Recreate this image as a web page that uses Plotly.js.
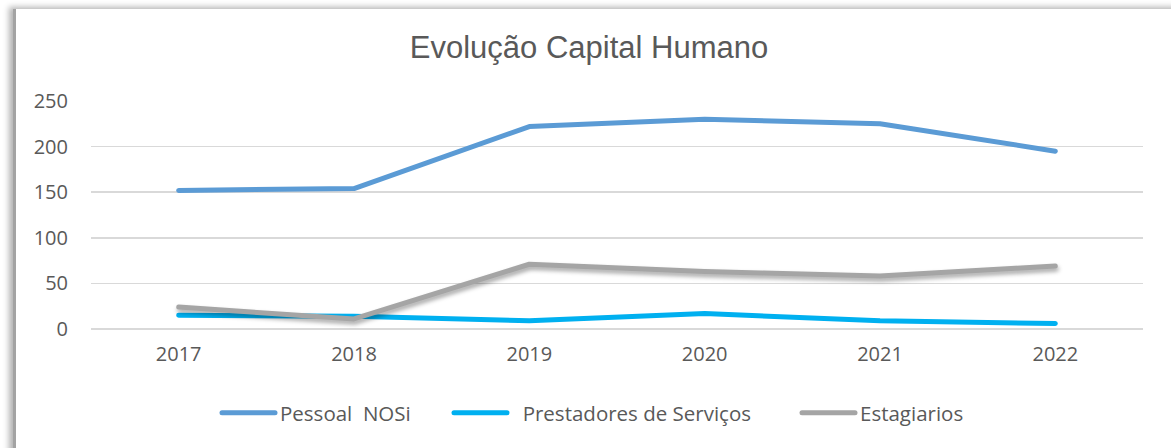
<!DOCTYPE html>
<html>
<head>
<meta charset="utf-8">
<script src="https://cdn.plot.ly/plotly-3.0.1.min.js"></script>
<style>
  html, body { margin: 0; padding: 0; background: #ffffff; width: 1171px; height: 448px; overflow: hidden; }
  #frame { position: absolute; left: 13px; top: 9px; width: 1170px; height: 450px; background: #ffffff;
           border-left: 3px solid #a3a3a3; box-shadow: -4px -2px 6px rgba(0,0,0,0.30); }
  #chart { position: absolute; left: 0; top: 0; width: 1171px; height: 448px; }
  .js-line { stroke-linecap: round; stroke-linejoin: round; }
</style>
</head>
<body>
<div id="frame"></div>
<div id="chart"></div>
<script>
const years = ['2017', '2018', '2019', '2020', '2021', '2022'];
const pessoalNOSi = [152, 154, 222, 230, 225, 195];
const prestadores = [15, 14, 9, 17, 9, 6];
const estagiarios = [24, 11, 71, 63, 58, 69];
const seriesNames = ['Pessoal\u00a0\u00a0NOSi', '\u00a0\u00a0Prestadores de Serviços', 'Estagiarios'];
const yTicks = [0, 50, 100, 150, 200, 250];

const textColor = '#595959';
const tickFont = { family: '"Open Sans", sans-serif', size: 20, color: textColor };
const legFont = { family: '"Open Sans", sans-serif', size: 20.5, color: textColor };

const traces = [
  { x: years, y: pessoalNOSi, name: seriesNames[0], type: 'scatter', mode: 'lines', legend: 'legend',
    line: { color: '#5B9BD5', width: 5 } },
  { x: years, y: prestadores, name: seriesNames[1], type: 'scatter', mode: 'lines', legend: 'legend2',
    line: { color: '#00B0F0', width: 5 } },
  { x: years, y: estagiarios, name: seriesNames[2], type: 'scatter', mode: 'lines', legend: 'legend3',
    line: { color: '#A5A5A5', width: 5 } }
];

function leg(xpx) {
  return { orientation: 'h', x: (xpx - 91) / 1052, xanchor: 'left', y: -0.368, yanchor: 'middle',
           font: legFont, itemwidth: 53, bgcolor: 'rgba(0,0,0,0)', borderwidth: 0 };
}

const layout = {
  width: 1171, height: 448,
  paper_bgcolor: 'rgba(0,0,0,0)', plot_bgcolor: 'rgba(0,0,0,0)',
  margin: { l: 91, r: 28, t: 101, b: 119 },
  font: { family: '"Open Sans", sans-serif', size: 18, color: textColor },
  title: { text: 'Evolução Capital Humano', x: 0.503, xanchor: 'center', y: 0.895, yanchor: 'middle',
           font: { family: '"Liberation Sans", Arial, sans-serif', size: 31, color: textColor } },
  xaxis: { type: 'category', range: [-0.5, 5.5], showgrid: false, showline: false, zeroline: false,
           ticks: '', tickfont: tickFont, ticklabelstandoff: 11, fixedrange: true },
  yaxis: { range: [0, 250], tickvals: yTicks, ticktext: yTicks.map(String), showgrid: true,
           gridcolor: '#d9d9d9', gridwidth: 1.5, zeroline: true, zerolinecolor: '#d9d9d9', zerolinewidth: 1.5,
           showline: false, ticks: '', tickfont: tickFont, ticklabelstandoff: 22, fixedrange: true },
  showlegend: true,
  legend: leg(217),
  legend2: leg(449),
  legend3: leg(797)
};

Plotly.newPlot('chart', traces, layout, { displayModeBar: false, staticPlot: true }).then(function (gd) {
  const tr = gd.querySelectorAll('.scatterlayer .trace');
  if (tr[2]) tr[2].style.filter = 'drop-shadow(1px 3px 2px rgba(0,0,0,0.35))';
});
</script>
</body>
</html>
